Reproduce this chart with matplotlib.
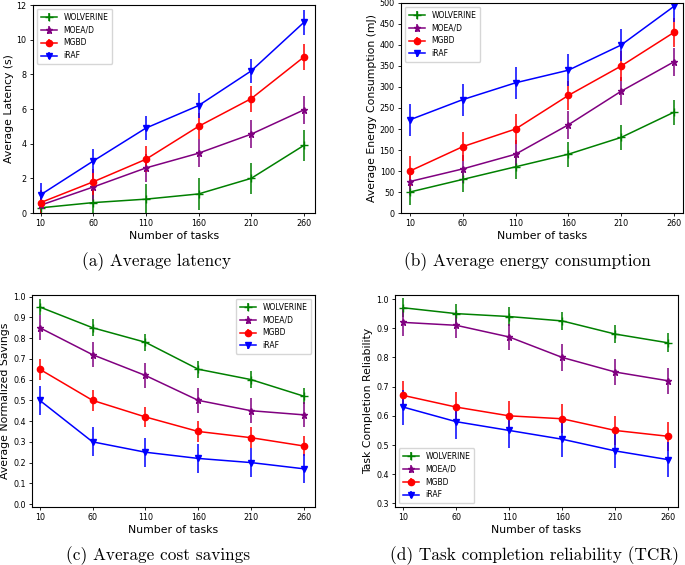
import matplotlib
matplotlib.use("Agg")
import matplotlib.pyplot as plt

tasks = [10, 60, 110, 160, 210, 260]
methods = ["WOLVERINE", "MOEA/D", "MGBD", "iRAF"]
colors = ["green", "purple", "red", "blue"]
markers = ["+", "*", "o", "v"]

# (a) latency
lat_vals = [
    [0.3, 0.6, 0.8, 1.1, 2.0, 3.9],
    [0.45, 1.5, 2.6, 3.45, 4.55, 5.95],
    [0.6, 1.8, 3.1, 5.0, 6.6, 9.0],
    [1.05, 3.0, 4.9, 6.2, 8.2, 11.0],
]
lat_err = [0.9, 0.8, 0.75, 0.7]

# (b) energy
energy_vals = [
    [50, 80, 110, 140, 180, 240],
    [75, 105, 140, 210, 290, 360],
    [100, 158, 200, 280, 350, 430],
    [222, 270, 310, 340, 400, 492],
]
energy_err = [30, 33, 35, 38]

# (c) savings
sav_vals = [
    [0.95, 0.85, 0.78, 0.65, 0.60, 0.52],
    [0.85, 0.72, 0.62, 0.50, 0.45, 0.43],
    [0.65, 0.50, 0.42, 0.35, 0.32, 0.28],
    [0.50, 0.30, 0.25, 0.22, 0.20, 0.17],
]
sav_err = [0.04, 0.06, 0.05, 0.07]

# (d) TCR
tcr_vals = [
    [0.97, 0.95, 0.94, 0.925, 0.88, 0.85],
    [0.92, 0.91, 0.87, 0.80, 0.75, 0.72],
    [0.67, 0.63, 0.60, 0.59, 0.55, 0.53],
    [0.63, 0.58, 0.55, 0.52, 0.48, 0.45],
]
tcr_err = [0.032, 0.045, 0.05, 0.06]

fig = plt.figure(figsize=(6.85, 5.65), dpi=100)

panels = [
    # rect, values, errors, ylabel, ylim, xlim, yticks, legend loc, caption, caption pos
    ([0.048, 0.623, 0.412, 0.368], lat_vals, lat_err, "Average Latency (s)",
     (0, 12), (2.7, 270.7), list(range(0, 13, 2)), "upper left",
     "(a) Average latency", (157 / 685, 1 - 262 / 565)),
    ([0.5854, 0.623, 0.4116, 0.3717], energy_vals, energy_err, "Average Energy Consumption (mJ)",
     (0, 500), (1.5, 268.5), list(range(0, 501, 50)), "upper left",
     "(b) Average energy consumption", (527 / 685, 1 - 262 / 565)),
    ([0.0467, 0.1027, 0.4133, 0.3753], sav_vals, sav_err, "Average Normalized Savings",
     (-0.014, 1.008), (2.7, 270.7), [i / 10 for i in range(11)], "upper right",
     "(c) Average cost savings", (158 / 685, 1 - 556 / 565)),
    ([0.5766, 0.1027, 0.4134, 0.3753], tcr_vals, tcr_err, "Task Completion Reliability",
     (0.288, 1.014), (2.2, 269.4), [i / 10 for i in range(3, 11)], "lower left",
     "(d) Task completion reliability (TCR)", (534 / 685, 1 - 556 / 565)),
]

for rect, vals, errs, ylabel, ylim, xlim, yticks, loc, caption, cpos in panels:
    ax = fig.add_axes(rect)
    for i, name in enumerate(methods):
        ax.errorbar(tasks, vals[i], yerr=errs[i], color=colors[i], marker=markers[i],
                    markersize=4.5 if markers[i] != "+" else 6, linewidth=1.1,
                    elinewidth=1.1, label=name)
    ax.set_xticks(tasks)
    ax.set_yticks(yticks)
    ax.set_xlim(xlim)
    ax.set_ylim(ylim)
    ax.tick_params(labelsize=5.8, length=2.5, width=0.6, pad=2)
    ax.set_xlabel("Number of tasks", fontsize=7.8, labelpad=2)
    ax.set_ylabel(ylabel, fontsize=7.8, labelpad=2)
    for s in ax.spines.values():
        s.set_linewidth(0.8)
    ax.legend(loc=loc, fontsize=5.5, handlelength=2.2, borderpad=0.5, labelspacing=0.5)
    fig.text(cpos[0], cpos[1], caption, family="cmr10", fontsize=12.4,
             ha="center", va="center")

fig.savefig("out.png", dpi=100)
